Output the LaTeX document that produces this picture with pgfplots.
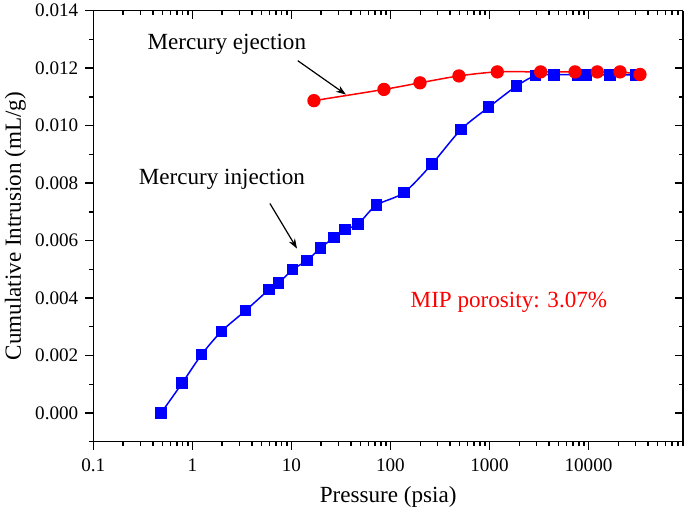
\documentclass[border=0pt]{standalone}
\usepackage{pgfplots}
\pgfplotsset{compat=1.18}
\usepackage{fontspec}
\setmainfont{Liberation Serif}
\usetikzlibrary{arrows.meta,calc}
\definecolor{pblue}{RGB}{0,0,255}
\definecolor{pred}{RGB}{255,0,0}
\pgfplotsset{
  common/.style={
    scale only axis, width=294.85bp, height=215.5bp,
    xmin=0.1, xmax=90000, ymin=-0.001, ymax=0.014,
    xtick={0.1,1,10,100,1000,10000},
    minor xtick={0.2,0.3,0.4,0.5,0.6,0.7,0.8,0.9,2,3,4,5,6,7,8,9,20,30,40,50,60,70,80,90,200,300,400,500,600,700,800,900,2000,3000,4000,5000,6000,7000,8000,9000,20000,30000,40000,50000,60000,70000,80000,90000},
    ytick={0,0.002,0.004,0.006,0.008,0.010,0.012,0.014},
    minor ytick={-0.001,0.001,0.003,0.005,0.007,0.009,0.011,0.013},
    scaled y ticks=false,
    axis line style={line width=0.7bp},
    major tick style={line width=0.7bp, black},
    minor tick style={line width=0.7bp, black},
    major tick length=4bp, minor tick length=2.2bp,
  }
}
\begin{document}
\begin{tikzpicture}
\begin{axis}[xmode=log, common, name=ax,
  axis x line*=bottom, axis y line*=left,
  tick align=outside,
  xticklabels={0.1,1,10,100,1000,10000},
  yticklabel style={/pgf/number format/.cd, fixed, fixed zerofill, precision=3},
  /pgf/number format/assume math mode=true,
  tick label style={font=\fontsize{9.6}{11}\selectfont},
  xticklabel style={yshift=-1bp},
  xlabel={Pressure (psia)},
  ylabel={Cumulative Intrusion (mL/g)},
  label style={font=\fontsize{11.6}{14}\selectfont},
  xlabel style={at={(axis description cs:0.5,-0.128)}, anchor=center},
  ylabel style={at={(axis description cs:-0.1323,0.5)}, anchor=center},
  clip=false,
]
\addplot[pblue, line width=0.75bp, smooth, mark=square*, mark size=2.5bp, mark options={solid, fill=pblue, draw=pblue}] coordinates {
(0.484,0.0000) (0.79,0.00104) (1.24,0.00203) (1.97,0.00284) (3.44,0.00356)
(5.93,0.00429) (7.43,0.00452) (10.3,0.00499) (14.4,0.00531) (19.7,0.00574)
(27,0.00611) (34.7,0.00638) (47.3,0.00658) (72,0.00723) (137,0.00767)
(262,0.00866) (515,0.00986) (982,0.01064) (1884,0.01138) (2930,0.01174)
(4490,0.01177) (7830,0.01177) (9500,0.01177) (16500,0.01177) (30000,0.01177)
};
\addplot[pred, line width=0.75bp, smooth, mark=*, mark size=2.95bp, mark options={solid, fill=pred, draw=pred}] coordinates {
(16.9,0.01087) (86,0.01126) (199,0.01149) (492,0.01173) (1200,0.01187)
(3290,0.01187) (7310,0.01187) (12270,0.01187) (20800,0.01187) (33100,0.01178)
};
\node[font=\fontsize{11.6}{14}\selectfont] at (axis cs:2.23,0.01282) {Mercury ejection};
\node[font=\fontsize{11.6}{14}\selectfont] at (axis cs:1.99,0.00812) {Mercury injection};
\node[font=\fontsize{11.6}{14}\selectfont, text=pred] at (axis cs:1574,0.00384) {MIP porosity: 3.07\%};
\draw[line width=0.6bp, -{Stealth[length=5bp, width=3.5bp]}] (axis cs:11.6,0.01226) -- (axis cs:35.6,0.01108);
\draw[line width=0.6bp, -{Stealth[length=5bp, width=3.5bp]}] (axis cs:6.07,0.00729) -- (axis cs:11.4,0.00572);
\end{axis}
\begin{axis}[xmode=log, common,
  axis x line*=top, axis y line*=right,
  tick align=inside,
  xticklabels={}, yticklabels={},
]
\end{axis}
\pgfresetboundingbox
\path ($(ax.south west)+(-46.65bp,-37.15bp)$) rectangle ($(ax.north east)+(1bp,5.35bp)$);
\end{tikzpicture}
\end{document}
